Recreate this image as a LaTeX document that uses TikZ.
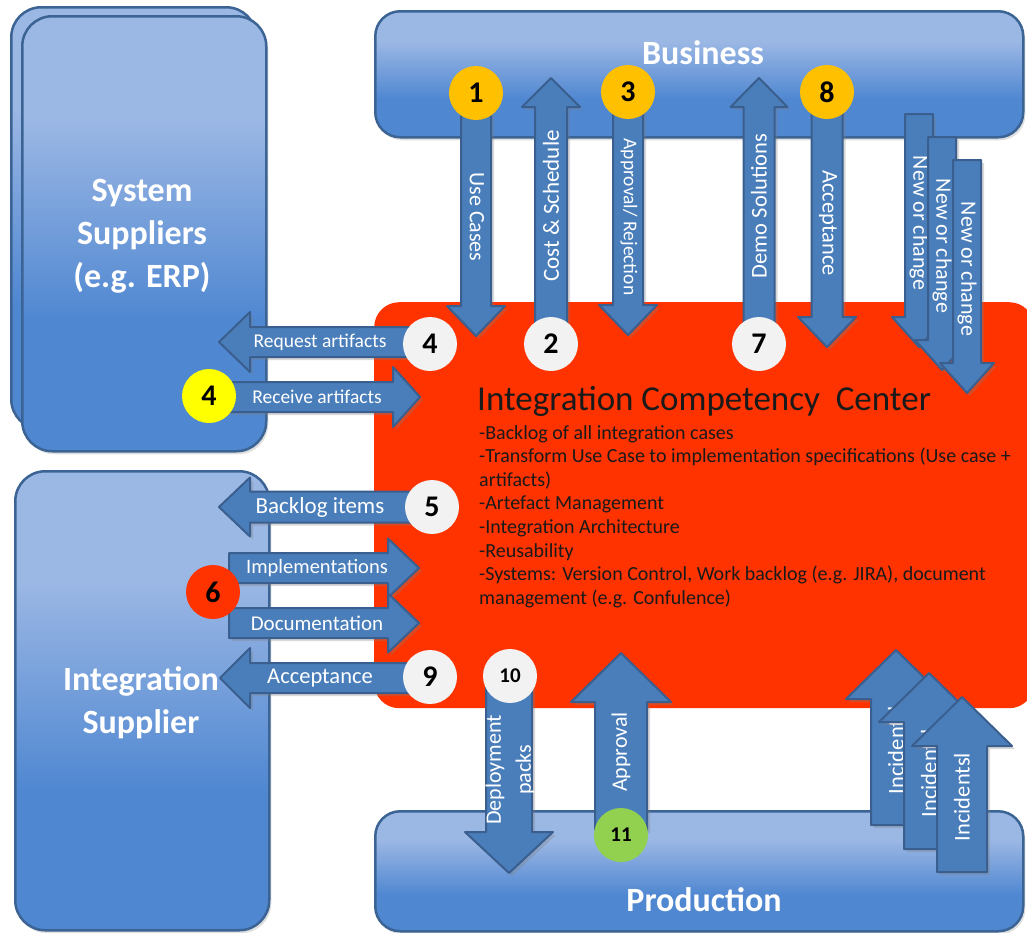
\documentclass[tikz,border=0pt]{standalone}
\usepackage{fontspec}
\setmainfont{Carlito}
\usetikzlibrary{shadows}
\definecolor{boxtop}{HTML}{9BB7E4}
\definecolor{boxbot}{HTML}{4F87D1}
\definecolor{boxline}{HTML}{3B6494}
\definecolor{arrfill}{HTML}{4A7EBB}
\definecolor{arrline}{HTML}{3A5F8E}
\definecolor{iccred}{HTML}{FF3300}
\definecolor{cgold}{HTML}{FFC000}
\definecolor{cwhite}{HTML}{F2F2F2}
\definecolor{cyellow}{HTML}{FFFF00}
\definecolor{cgreen}{HTML}{92D050}
\definecolor{txtdark}{HTML}{1A1A1A}
\pgfdeclareverticalshading{boxshade}{100bp}{color(0bp)=(boxbot); color(25bp)=(boxbot); color(40bp)=(boxbot); color(63bp)=(boxtop); color(100bp)=(boxtop)}
\newcommand\fs[2]{\fontsize{#1pt}{#2pt}\selectfont}
% vertical block arrow: cx, y of tail end, y of head base, y of tip, shaft width, head width
\newcommand\varrow[6]{\draw[arr] ({#1-#5/2},#2) -- ({#1+#5/2},#2) -- ({#1+#5/2},#3) -- ({#1+#6/2},#3) -- (#1,#4) -- ({#1-#6/2},#3) -- ({#1-#5/2},#3) -- cycle;}
% horizontal block arrow: cy, x of tail end, x of head base, x of tip, shaft width, head width
\newcommand\harrow[6]{\draw[arr] (#2,{#1-#5/2}) -- (#3,{#1-#5/2}) -- (#3,{#1-#6/2}) -- (#4,#1) -- (#3,{#1+#6/2}) -- (#3,{#1+#5/2}) -- (#2,{#1+#5/2}) -- cycle;}
\begin{document}
\begin{tikzpicture}[x=1pt,y=-1pt,
  bluebox/.style={draw=boxline, line width=2.5pt, rounded corners=30pt, shading=boxshade, anchor=north west, inner sep=0pt,
    drop shadow={shadow xshift=2pt, shadow yshift=-3pt, opacity=0.25}},
  arr/.style={fill=arrfill, draw=arrline, line width=2pt, line join=round,
    drop shadow={shadow xshift=3pt, shadow yshift=-3pt, opacity=0.3}},
  lab/.style={text=white, inner sep=0pt},
  numc/.style={circle, minimum size=54pt, inner sep=0pt, text=black, font=\bfseries\fs{30}{30}},
  numsmall/.style={numc, font=\bfseries\fs{21}{21}},
  bigtxt/.style={text=white, inner sep=0pt, align=center, font=\bfseries\fs{34}{43}},
  bullet/.style={anchor=base west, inner sep=0pt, text=txtdark, font=\fs{20}{24}}]
\useasboundingbox (0,0) rectangle (1027,932);
\fill[white] (0,0) rectangle (1027,932);

% ---------- boxes ----------
\node[bluebox, minimum width=245pt, minimum height=422pt] (ssback) at (10,6) {};
\node[bluebox, minimum width=244pt, minimum height=435pt] (ss) at (21,15) {};
\node[bluebox, minimum width=254pt, minimum height=459pt] (is) at (14,470) {};
\node[bluebox, rounded corners=25pt, minimum width=648pt, minimum height=126pt] (biz) at (374,10) {};
\node[bluebox, rounded corners=25pt, minimum width=648pt, minimum height=120pt] (prod) at (374,810) {};
\node[fill=iccred, rounded corners=25pt, minimum width=660pt, minimum height=406pt, anchor=north west, inner sep=0pt] (icc) at (374,302) {};

\node[bigtxt] (tss) at (142,236) {System\\Suppliers\\(e.g. ERP)};
\node[bigtxt] (tis) at (141,703) {Integration\\Supplier};
\node[bigtxt] (tbiz) at (703,53) {Business};
\node[bigtxt] (tprod) at (704,900) {Production};

% ---------- ICC text ----------
\node[anchor=base west, inner sep=0pt, text=txtdark, font=\fs{35}{40}] (ttl) at (477,410) {Integration Competency\ \ Center};
\node[bullet] (b1) at (479,439) {-Backlog of all integration cases};
\node[bullet] (b2) at (479,462.6) {-Transform Use Case to implementation specifications (Use case +};
\node[bullet] (b3) at (479,486.2) {artifacts)};
\node[bullet] (b4) at (479,509.8) {-Artefact Management};
\node[bullet] (b5) at (479,533.4) {-Integration Architecture};
\node[bullet] (b6) at (479,557) {-Reusability};
\node[bullet] (b7) at (479,580.6) {-Systems: Version Control, Work backlog (e.g. JIRA), document};
\node[bullet] (b8) at (479,604.2) {management (e.g. Confulence)};

% ---------- top arrows ----------
\varrow{476}{110}{306}{336}{30}{58}
\node[lab, rotate=-90, font=\fs{22}{22}] (lusecases) at (477,217) {Use Cases};
\varrow{551}{340}{107}{78}{32}{58}
\node[lab, rotate=90, font=\fs{23}{23}] (lcost) at (551,206) {Cost \& Schedule};
\varrow{628}{110}{305}{335}{30}{58}
\node[lab, rotate=-90, font=\fs{19.5}{19.5}] (lapprej) at (629,217) {Approval/ Rejection};
\varrow{759}{340}{107}{78}{31}{57}
\node[lab, rotate=90, font=\fs{22.5}{22.5}] (ldemo) at (759,206) {Demo Solutions};
\varrow{827}{110}{317}{347}{31}{58}
\node[lab, rotate=-90, font=\fs{22.5}{22.5}] (laccb) at (828,223) {Acceptance};

\varrow{919}{114}{317}{347}{28}{54}
\node[lab, rotate=-90, font=\fs{22}{22}] (lnew1) at (919,223) {New or change};
\varrow{942}{137}{340}{370}{28}{54}
\node[lab, rotate=-90, font=\fs{22}{22}] (lnew2) at (942,246) {New or change};
\varrow{967}{160}{363}{393}{28}{54}
\node[lab, rotate=-90, font=\fs{22}{22}] (lnew3) at (967,269) {New or change};

% ---------- left arrows ----------
\harrow{342}{430}{250}{219}{30}{60}
\node[lab, font=\fs{19.5}{19.5}] (lreq) at (320,342) {Request artifacts};
\harrow{397}{215}{393}{420}{30}{60}
\node[lab, font=\fs{19.5}{19.5}] (lrec) at (317,397) {Receive artifacts};
\harrow{507}{430}{250}{219}{31}{59}
\node[lab, font=\fs{23}{23}] (lback) at (320,507) {Backlog items};
\harrow{568}{229}{388}{419}{30}{59}
\node[lab, font=\fs{20.5}{20.5}] (limpl) at (317,568) {Implementations};
\harrow{623}{229}{388}{419}{30}{59}
\node[lab, font=\fs{21}{21}] (ldoc) at (317,623) {Documentation};
\harrow{678}{430}{250}{220}{30}{60}
\node[lab, font=\fs{22.5}{22.5}] (lacc) at (320,678) {Acceptance};

% ---------- bottom arrows ----------
\varrow{509}{680}{832}{873}{46}{88}
\node[lab, rotate=90, align=center, font=\fs{22}{30}] (ldep) at (510,770) {Deployment\\packs};
\varrow{621}{830}{702}{653}{52}{100}
\node[lab, rotate=90, font=\fs{22}{22}] (lappr) at (621,752) {Approval};

\varrow{896}{825}{699}{650}{50}{100}
\node[lab, rotate=90, font=\fs{22.5}{22.5}] (linc1) at (896,750) {Incidentsl};
\varrow{929}{849}{722}{673}{50}{100}
\node[lab, rotate=90, font=\fs{22.5}{22.5}] (linc2) at (929,773) {Incidentsl};
\varrow{962}{872}{746}{697}{50}{100}
\node[lab, rotate=90, font=\fs{22.5}{22.5}] (linc3) at (962,797) {Incidentsl};

% ---------- numbered circles ----------
\node[numc, fill=cgold] (c1) at (476,93) {1};
\node[numc, fill=cgold] (c3) at (628,92) {3};
\node[numc, fill=cgold] (c8) at (827,92) {8};
\node[numc, fill=cwhite] (c2) at (551,344) {2};
\node[numc, fill=cwhite] (c7) at (759,344) {7};
\node[numc, fill=cwhite] (c4w) at (430,344) {4};
\node[numc, fill=cyellow] (c4y) at (209,396) {4};
\node[numc, fill=cwhite] (c5) at (432,507) {5};
\node[numc, fill=iccred] (c6) at (213,592) {6};
\node[numc, fill=cwhite] (c9) at (430,677) {9};
\node[numsmall, fill=cwhite] (c10) at (510,676) {10};
\node[numsmall, fill=cgreen] (c11) at (621,835) {11};
\end{tikzpicture}
\end{document}
